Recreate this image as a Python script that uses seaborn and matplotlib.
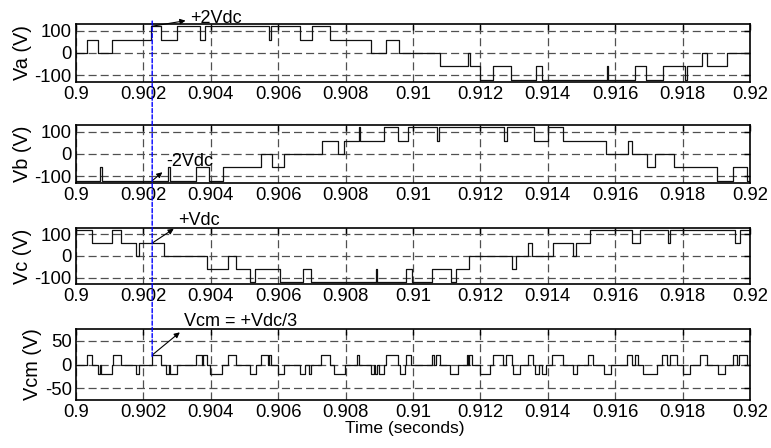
import numpy as np
import pandas as pd
import matplotlib
matplotlib.use("Agg")
import matplotlib.pyplot as plt
from matplotlib.patches import ConnectionPatch
import seaborn as sns

# ---- switching instants (s) and output levels (V) of each phase ----
T_START, T_END = 0.9, 0.92

va_t = [0.9, 0.90034, 0.90066, 0.90108, 0.90222, 0.90253, 0.90299, 0.90368, 0.90382,
        0.90574, 0.90580, 0.90665, 0.90700, 0.90754, 0.90875, 0.90920, 0.90959, 0.91081,
        0.91163, 0.91168, 0.91200, 0.91238, 0.91292, 0.91366, 0.91383, 0.91576, 0.91580,
        0.91660, 0.91690, 0.91743, 0.91806, 0.91814, 0.91858, 0.91873, 0.91931]
va_v = [0, 60, 0, 60, 120, 60, 120, 60, 120,
        60, 120, 60, 120, 60, 0, 60, 0, -60,
        0, -60, -120, -60, -120, -60, -120, -60, -120,
        -60, -120, -60, -120, -60, 0, -60, 0]

vb_t = [0.9, 0.90071, 0.90078, 0.90274, 0.90279, 0.90356, 0.90394, 0.90435, 0.90549,
        0.90581, 0.90618, 0.90730, 0.90776, 0.90796, 0.90839, 0.90842, 0.90913, 0.90956,
        0.90986, 0.91072, 0.91078, 0.91270, 0.91278, 0.91359, 0.91401, 0.91446, 0.91573,
        0.91639, 0.91651, 0.91693, 0.91718, 0.91774, 0.91901, 0.91950, 0.91990]
vb_v = [-120, -60, -120, -60, -120, -60, -120, -60, 0,
        -60, 0, 60, 0, 60, 120, 60, 120, 60,
        120, 60, 120, 60, 120, 60, 120, 60, 0,
        60, 0, -60, 0, -60, -120, -60, -120]

vc_t = [0.9, 0.90047, 0.90108, 0.90133, 0.90178, 0.90188, 0.90261, 0.90390, 0.90452,
        0.90475, 0.90517, 0.90532, 0.90604, 0.90675, 0.90697, 0.90891, 0.90894, 0.90979,
        0.90996, 0.91055, 0.91112, 0.91129, 0.91167, 0.91293, 0.91307, 0.91342, 0.91352,
        0.91414, 0.91476, 0.91484, 0.91525, 0.91649, 0.91673, 0.91757, 0.91764, 0.91955,
        0.91970]
vc_v = [120, 60, 120, 60, 0, 60, 0, -60, 0,
        -60, -120, -60, -120, -60, -120, -60, -120, -60,
        -120, -60, -120, -60, 0, -60, 0, 60, 0,
        60, 0, 60, 120, 60, 120, 60, 120, 60,
        120]

vcm_t = [0.9, 0.90034, 0.90046, 0.90065, 0.90070, 0.90074, 0.90108, 0.90110, 0.90134,
         0.90177, 0.90186, 0.90225, 0.90251, 0.90266, 0.90275, 0.90280, 0.90299, 0.90355,
         0.90373, 0.90378, 0.90388, 0.90398, 0.90432, 0.90451, 0.90474, 0.90516, 0.90534,
         0.90548, 0.90569, 0.90574, 0.90579, 0.90600, 0.90617, 0.90665, 0.90679, 0.90692,
         0.90696, 0.90726, 0.90754, 0.90765, 0.90798, 0.90835, 0.90839, 0.90875, 0.90884,
         0.90887, 0.90892, 0.90900, 0.90914, 0.90919, 0.90956, 0.90961, 0.90977, 0.90980,
         0.90994, 0.91055, 0.91063, 0.91068, 0.91080, 0.91110, 0.91134, 0.91159, 0.91164,
         0.91167, 0.91174, 0.91199, 0.91228, 0.91236, 0.91268, 0.91276, 0.91293, 0.91298,
         0.91318, 0.91342, 0.91357, 0.91362, 0.91375, 0.91382, 0.91396, 0.91411, 0.91446,
         0.91476, 0.91486, 0.91520, 0.91535, 0.91567, 0.91586, 0.91634, 0.91649, 0.91659,
         0.91668, 0.91683, 0.91723, 0.91738, 0.91753, 0.91762, 0.91782, 0.91802, 0.91822,
         0.91851, 0.91871, 0.91906, 0.91926, 0.91948, 0.91960, 0.91968, 0.91992]
vcm_v = [0, 20, 0, -20, 0, -20, 0, 20, 0,
         -20, 0, 20, 0, -20, 0, -20, 0, 20,
         0, 20, 0, -20, 0, 20, 0, -20, 0,
         20, 0, 20, 0, -20, 0, -20, 0, -20,
         0, 20, 0, -20, 0, 20, 0, -20, 0,
         -20, 0, -20, 0, 20, 0, -20, 0, 20,
         0, 20, 0, 20, 0, -20, 0, 20, 0,
         20, 0, -20, 0, 20, 0, 20, 0, -20,
         0, 20, 0, -20, 0, -20, 0, 20, 0,
         -20, 0, 20, 0, -20, 0, 20, 0, 20,
         0, -20, 0, 20, 0, 20, 0, -20, 0,
         20, 0, -20, 0, 20, 0, 20, 0]

time_ticks = [0.9, 0.902, 0.904, 0.906, 0.908, 0.91, 0.912, 0.914, 0.916, 0.918, 0.92]
time_tick_labels = ["0.9", "0.902", "0.904", "0.906", "0.908", "0.91",
                    "0.912", "0.914", "0.916", "0.918", "0.92"]
phase_ticks = [-100, 0, 100]
cm_ticks = [-50, 0, 50]

y_labels = ["Va (V)", "Vb (V)", "Vc (V)", "Vcm (V)"]

# instant highlighted across all panels
t_mark = 0.90226
mark_levels = [120, -120, 60, 20]
mark_texts = ["+2Vdc", "-2Vdc", "+Vdc", "Vcm = +Vdc/3"]

# ---- style ----
sns.set_theme(style="white")
plt.rcParams["font.family"] = ["Liberation Sans", "DejaVu Sans"]
plt.rcParams["axes.unicode_minus"] = False
plt.rcParams["lines.scale_dashes"] = False

fig = plt.figure(figsize=(7.71, 4.48), dpi=100)
left, width = 0.0986, 0.8742
rects = [(0.8170, 0.1295), (0.5915, 0.1295), (0.3661, 0.1250), (0.1071, 0.1585)]
axes = [fig.add_axes([left, b, width, h]) for b, h in rects]


def steps(t, v):
    return pd.DataFrame({"t": list(t) + [T_END], "v": list(v) + [v[-1]]})


series = [(va_t, va_v), (vb_t, vb_v), (vc_t, vc_v), (vcm_t, vcm_v)]
for i, (ax, (t, v)) in enumerate(zip(axes, series)):
    sns.lineplot(data=steps(t, v), x="t", y="v", ax=ax, sort=False, estimator=None,
                 drawstyle="steps-post", color="#111111", linewidth=0.9)
    ax.set_xlim(T_START, T_END)
    if i < 3:
        ax.set_ylim(-130, 130)
        ax.set_yticks(phase_ticks)
        ax.set_yticklabels([str(x) for x in phase_ticks])
    else:
        ax.set_ylim(-75, 75)
        ax.set_yticks(cm_ticks)
        ax.set_yticklabels([str(x) for x in cm_ticks])
    ax.set_xticks(time_ticks)
    ax.set_xticklabels(time_tick_labels)
    ax.grid(True, linestyle=(0, (5.8, 2.9)), color="#505050", linewidth=0.9)
    ax.tick_params(direction="in", top=True, right=True, length=4, width=1,
                   labelsize=13.3, pad=3, colors="black")
    for s in ax.spines.values():
        s.set_visible(True)
        s.set_color("black")
        s.set_linewidth(1.2)
    ax.set_xlabel("")
    ax.set_ylabel(y_labels[i], fontsize=14.3, labelpad=2, color="black")

axes[3].set_xlabel("Time (seconds)", fontsize=12.5, color="black")
axes[3].xaxis.set_label_coords(0.488, -0.30)

# annotations at the highlighted instant
offsets = [(38, 3.5), (14.5, 14.5), (26, 17.8), (32, 28.6)]
relpos = [(0, 0.4), (0, 0.1), (0, 0.2), (0, 0.1)]
for ax, lvl, txt, off, rp in zip(axes, mark_levels, mark_texts, offsets, relpos):
    ax.annotate(txt, xy=(t_mark, lvl), xytext=off, textcoords="offset pixels",
                ha="left", va="baseline", fontsize=13, color="black",
                annotation_clip=False,
                arrowprops=dict(arrowstyle="<|-", color="black", lw=0.8,
                                mutation_scale=8, shrinkA=1, shrinkB=0, relpos=rp))

link = ConnectionPatch(xyA=(t_mark, 1.05), coordsA=axes[0].get_xaxis_transform(),
                       xyB=(t_mark, 15), coordsB="data", axesB=axes[3],
                       color="#0000ff", linestyle=(0, (3, 1.5)), linewidth=1.0,
                       zorder=5)
fig.add_artist(link)

fig.savefig("out.png", dpi=100)
